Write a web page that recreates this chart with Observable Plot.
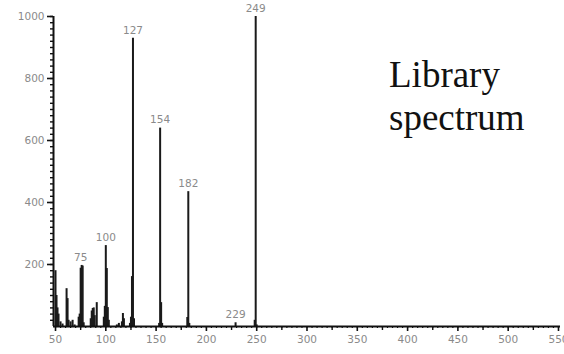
<!DOCTYPE html>
<html>
<head>
<meta charset="utf-8">
<script src="https://cdn.jsdelivr.net/npm/d3@7"></script>
<script src="https://cdn.jsdelivr.net/npm/@observablehq/plot@0.6"></script>
<style>
  html, body { margin: 0; padding: 0; background: #fff; }
  #wrap { position: relative; width: 564px; height: 354px; overflow: hidden; }
  #title { position: absolute; left: 389px; top: 53px; font-family: "Liberation Serif", "Times New Roman", serif;
           font-size: 37px; line-height: 43px; color: #111; white-space: nowrap; }
</style>
</head>
<body>
<div id="wrap">
  <div id="chart"></div>
  <div id="title">Library<br>spectrum</div>
</div>
<script>
// m/z values and relative intensities
const mz = [50, 51, 52, 53, 55, 57, 61, 62, 63, 65, 67, 69, 73, 74, 75, 76, 77, 78,
            85, 86, 87, 88, 89, 91, 98, 99, 100, 101, 102, 103, 111, 113, 116, 117, 118,
            124, 125, 126, 127, 128, 153, 154, 155, 156, 181, 182, 183, 229, 248, 249, 250];
const intensity = [180, 100, 60, 40, 15, 8, 122, 90, 20, 15, 20, 5, 30, 40, 188, 197, 195, 12,
                   25, 50, 58, 60, 35, 77, 30, 65, 261, 187, 61, 20, 5, 10, 15, 42, 25,
                   10, 30, 161, 930, 25, 10, 640, 77, 10, 29, 435, 10, 12, 20, 1000, 5];
const labelMz = [75, 100, 127, 154, 182, 229, 249];
const labelY = [197, 261, 930, 640, 435, 12, 1000];

const xMajor = d3.range(50, 551, 50);
const xMid = d3.range(75, 551, 50);
const xMinor = d3.range(50, 551, 5);
const yMajor = [200, 400, 600, 800, 1000];
const yMinor = d3.range(20, 1001, 20);

const peaks = mz.map((m, i) => ({mz: m, v: intensity[i]}));
const labels = labelMz.map((m, i) => ({mz: m, v: labelY[i]}));

const axisColor = "#111";
const textColor = "#8a8a8a";

const chart = Plot.plot({
  width: 564,
  height: 354,
  marginLeft: 53,
  marginRight: 4,
  marginTop: 16,
  marginBottom: 28,
  style: {fontFamily: "DejaVu Sans, sans-serif", fontSize: "10px", background: "#fff", overflow: "visible"},
  x: {domain: [48, 552], axis: null, label: null},
  y: {domain: [0, 1000], axis: null, label: null},
  marks: [
    Plot.ruleX(peaks, {x: "mz", y1: 0, y2: "v", stroke: "#1a1a1a", strokeWidth: 2}),
    Plot.text(labels, {x: "mz", y: "v", text: d => String(d.mz), dy: -8, fill: textColor, fontSize: 10.5}),
    // x axis ticks
    Plot.axisX(xMinor, {anchor: "bottom", tickSize: 2, text: null, label: null, stroke: axisColor, strokeWidth: 1.2}),
    Plot.axisX(xMid, {anchor: "bottom", tickSize: 4, text: null, label: null, stroke: axisColor, strokeWidth: 1.4}),
    Plot.axisX(xMajor, {anchor: "bottom", tickSize: 5, tickPadding: 4, label: null, tickFormat: d3.format("d"),
                        fill: textColor, fontSize: 10.5, stroke: axisColor, strokeWidth: 1.6}),
    // y axis ticks
    Plot.axisY(yMinor, {anchor: "left", tickSize: 3, text: null, label: null, stroke: axisColor, strokeWidth: 1.4}),
    Plot.axisY(yMajor, {anchor: "left", tickSize: 6, tickPadding: 3, label: null, tickFormat: d3.format("d"),
                        fill: textColor, fontSize: 10.5, stroke: axisColor, strokeWidth: 1.6}),
    // axis lines
    Plot.ruleY([0], {stroke: axisColor, strokeWidth: 2}),
    Plot.ruleX([48], {stroke: axisColor, strokeWidth: 2})
  ]
});
document.getElementById("chart").appendChild(chart);
</script>
</body>
</html>
